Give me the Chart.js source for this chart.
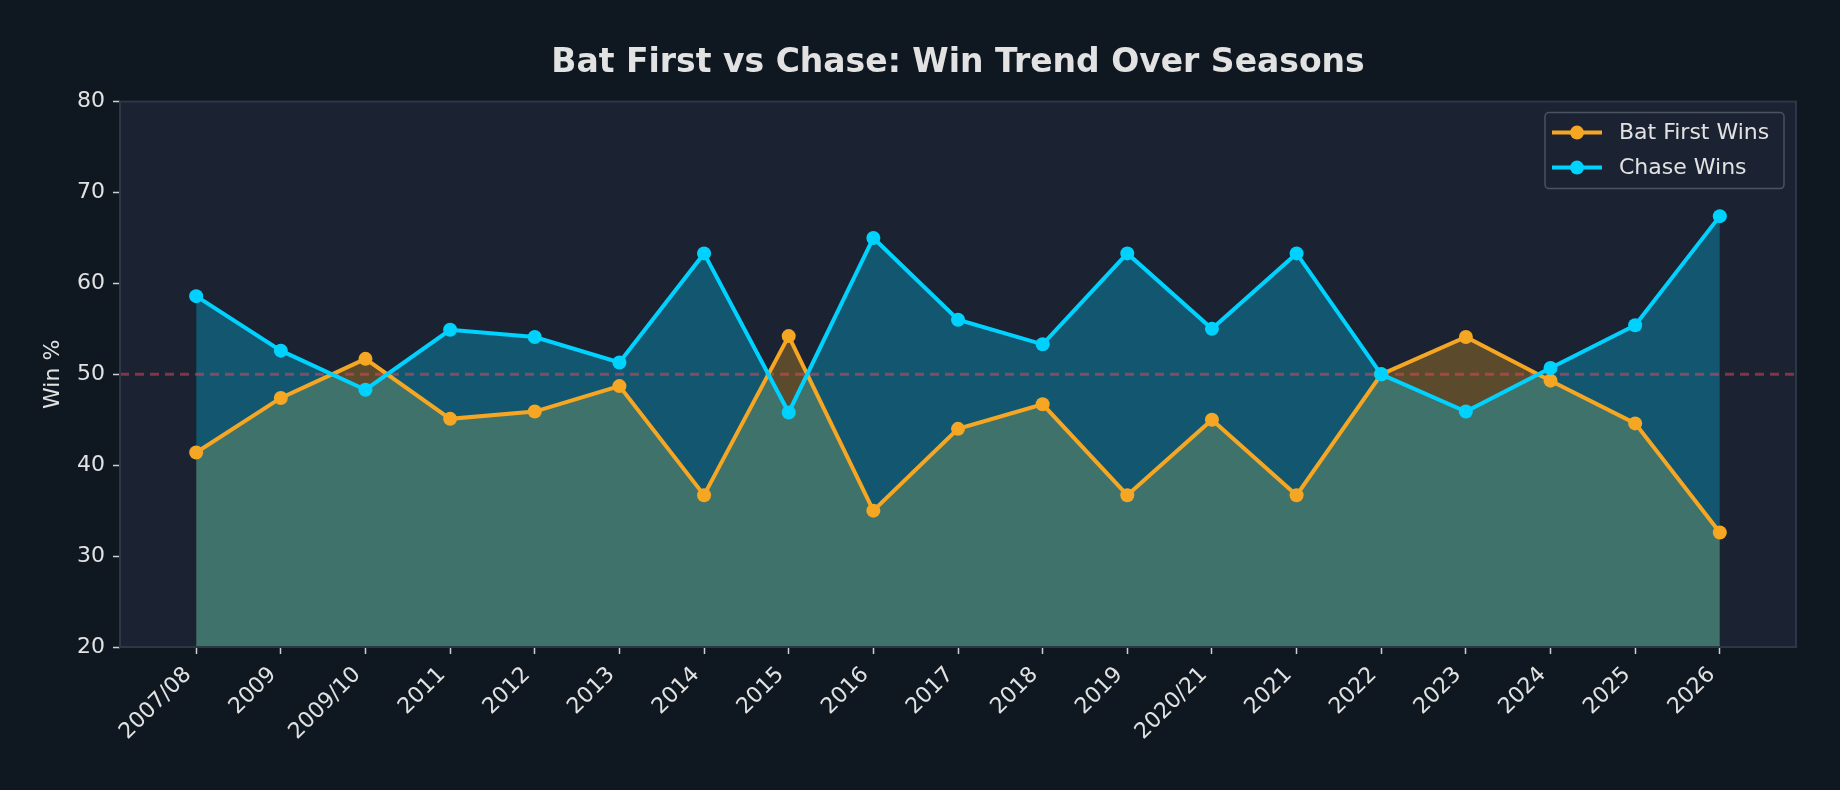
<!DOCTYPE html>
<html>
<head>
<meta charset="utf-8">
<script src="https://cdn.jsdelivr.net/npm/chart.js@4.4.1/dist/chart.umd.min.js"></script>
<style>
  html, body { margin: 0; padding: 0; background: #0f1821; }
  canvas { display: block; }
</style>
</head>
<body>
<canvas id="trendChart" width="1840" height="790"></canvas>
<script>
// data
const seasons = ['2007/08', '2009', '2009/10', '2011', '2012', '2013', '2014', '2015', '2016', '2017',
                 '2018', '2019', '2020/21', '2021', '2022', '2023', '2024', '2025', '2026'];
const batFirstWins = [41.4, 47.4, 51.7, 45.1, 45.9, 48.7, 36.7, 54.2, 35.0, 44.0,
                      46.7, 36.7, 45.0, 36.7, 50.0, 54.1, 49.3, 44.6, 32.6];
const chaseWins = [58.6, 52.6, 48.3, 54.9, 54.1, 51.3, 63.3, 45.8, 65.0, 56.0,
                   53.3, 63.3, 55.0, 63.3, 50.0, 45.9, 50.7, 55.4, 67.4];
const yTicks = [20, 30, 40, 50, 60, 70, 80];
const refLine = 50;

const figBg = '#0f1821';
const plotBg = '#1b2332';
const spine = '#2c3847';
const textCol = '#e2e2e2';
const orange = '#f5a623';
const cyan = '#00d2ff';

Chart.defaults.font.family = "'DejaVu Sans', sans-serif";
Chart.defaults.color = textCol;

// backgrounds, spines, the 50% line and the legend
const plotDecor = {
    id: 'plotDecor',
    beforeDraw(chart) {
        const { ctx, chartArea: a } = chart;
        ctx.save();
        ctx.fillStyle = figBg;
        ctx.fillRect(0, 0, chart.width, chart.height);
        ctx.fillStyle = plotBg;
        ctx.fillRect(a.left, a.top, a.right - a.left, a.bottom - a.top);
        ctx.restore();
    },
    beforeDatasetsDraw(chart) {
        const { ctx, chartArea: a, scales } = chart;
        const y = scales.y.getPixelForValue(refLine);
        ctx.save();
        ctx.strokeStyle = 'rgba(233, 69, 96, 0.5)';
        ctx.lineWidth = 3;
        ctx.setLineDash([9, 6]);
        ctx.beginPath();
        ctx.moveTo(a.left, y);
        ctx.lineTo(a.right, y);
        ctx.stroke();
        ctx.setLineDash([]);
        ctx.strokeStyle = spine;
        ctx.lineWidth = 2;
        ctx.strokeRect(a.left, a.top, a.right - a.left, a.bottom - a.top);
        ctx.restore();
    },
    afterDraw(chart) {
        const { ctx, chartArea: a } = chart;
        const items = [['Bat First Wins', orange], ['Chase Wins', cyan]];
        const bx = a.right - 251, by = a.top + 11, bw = 239, bh = 76;
        ctx.save();
        ctx.fillStyle = 'rgba(27, 35, 50, 0.85)';
        ctx.strokeStyle = '#4b5362';
        ctx.lineWidth = 1.5;
        ctx.beginPath();
        ctx.roundRect(bx, by, bw, bh, 4);
        ctx.fill();
        ctx.stroke();
        ctx.font = "22px 'DejaVu Sans'";
        ctx.textBaseline = 'middle';
        items.forEach(([label, col], i) => {
            const cy = by + 20 + i * 35;
            ctx.strokeStyle = col;
            ctx.lineWidth = 4;
            ctx.beginPath();
            ctx.moveTo(bx + 7, cy);
            ctx.lineTo(bx + 57, cy);
            ctx.stroke();
            ctx.fillStyle = col;
            ctx.beginPath();
            ctx.arc(bx + 32, cy, 7, 0, Math.PI * 2);
            ctx.fill();
            ctx.fillStyle = textCol;
            ctx.fillText(label, bx + 74, cy + 1);
        });
        ctx.restore();
    }
};

new Chart(document.getElementById('trendChart').getContext('2d'), {
    type: 'line',
    data: {
        datasets: [
            {
                label: 'Bat First Wins',
                data: batFirstWins.map((v, i) => ({ x: i, y: v })),
                borderColor: orange,
                backgroundColor: 'rgba(245, 166, 35, 0.3)',
                pointBackgroundColor: orange,
                pointBorderColor: orange,
                fill: 'start',
                order: 1
            },
            {
                label: 'Chase Wins',
                data: chaseWins.map((v, i) => ({ x: i, y: v })),
                borderColor: cyan,
                backgroundColor: 'rgba(0, 210, 255, 0.3)',
                pointBackgroundColor: cyan,
                pointBorderColor: cyan,
                fill: 'start',
                order: 0
            }
        ]
    },
    options: {
        responsive: false,
        devicePixelRatio: 1,
        animation: false,
        layout: { padding: { left: 0, right: 44, top: 0, bottom: 0 } },
        elements: {
            line: { borderWidth: 4, tension: 0 },
            point: { radius: 7, borderWidth: 0, hoverRadius: 7 }
        },
        plugins: {
            filler: { drawTime: 'beforeDatasetsDraw' },
            legend: { display: false },
            tooltip: { enabled: false },
            title: {
                display: true,
                fullSize: false,
                text: 'Bat First vs Chase: Win Trend Over Seasons',
                color: textCol,
                font: { size: 33, weight: 'bold' },
                padding: { top: 44, bottom: 18 }
            }
        },
        scales: {
            x: {
                type: 'linear',
                min: -0.9,
                max: seasons.length - 1 + 0.9,
                afterBuildTicks: (scale) => { scale.ticks = seasons.map((_, i) => ({ value: i })); },
                afterFit: (scale) => { scale.height = 143; },
                border: { display: false },
                grid: { drawOnChartArea: false, drawTicks: true, tickLength: 7, tickColor: '#cfcfcf', tickWidth: 1.5 },
                ticks: {
                    autoSkip: false,
                    minRotation: 45,
                    maxRotation: 45,
                    padding: 8,
                    labelOffset: -8,
                    color: textCol,
                    font: { size: 22 },
                    callback: (v) => seasons[v]
                }
            },
            y: {
                min: yTicks[0],
                max: yTicks[yTicks.length - 1],
                afterBuildTicks: (scale) => { scale.ticks = yTicks.map((v) => ({ value: v })); },
                afterFit: (scale) => { scale.width = 120; },
                border: { display: false },
                grid: { drawOnChartArea: false, drawTicks: true, tickLength: 7, tickColor: '#cfcfcf', tickWidth: 1.5 },
                ticks: { padding: 8, color: textCol, font: { size: 22 } },
                title: {
                    display: true,
                    text: 'Win %',
                    color: textCol,
                    font: { size: 22 },
                    padding: { top: 40 }
                }
            }
        }
    },
    plugins: [plotDecor]
});
</script>
</body>
</html>
